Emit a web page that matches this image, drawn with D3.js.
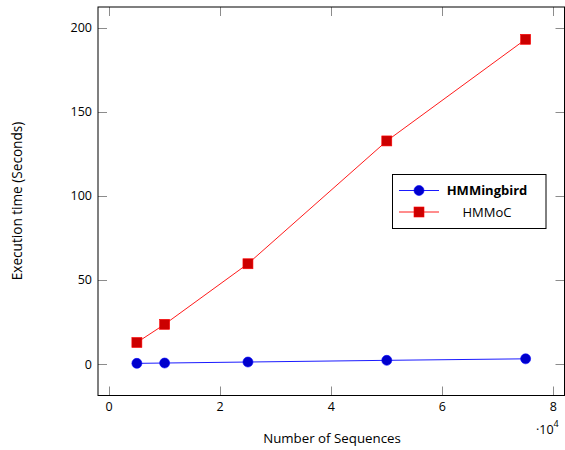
<!DOCTYPE html>
<html>
<head>
<meta charset="utf-8">
<script src="https://cdn.jsdelivr.net/npm/d3@7"></script>
<style>
  body { margin: 0; background: #fff; }
  text { font-family: "Open Sans", sans-serif; fill: #000; }
</style>
</head>
<body>
<div id="chart"></div>
<script>
// Data
var sequences = [5000, 10000, 25000, 50000, 75000];
var hmmingbird = [0.4, 0.6, 1.2, 2.2, 3.1];
var hmmoc = [12.8, 23.6, 59.6, 132.6, 193.0];
var xTicks = [0, 20000, 40000, 60000, 80000];
var yTicks = [0, 50, 100, 150, 200];
var seriesNames = ["HMMingbird", "HMMoC"];

var width = 565, height = 450;
var box = { left: 98, right: 564.5, top: 7, bottom: 395.5 };

var svg = d3.select("#chart").append("svg")
    .attr("width", width)
    .attr("height", height);

// Scales (pgfplots-like enlarged limits)
var x = d3.scaleLinear().domain([-2000, 82000]).range([box.left, box.right]);
var y = d3.scaleLinear().domain([-18.7, 212.2]).range([box.bottom, box.top]);

var tickLen = 9;

// Ticks, inward on all four sides
var ticks = svg.append("g").attr("stroke", "#8c8c8c").attr("stroke-width", 1);
xTicks.forEach(function(t) {
    var px = Math.round(x(t)) + 0.5;
    ticks.append("line").attr("x1", px).attr("x2", px).attr("y1", box.bottom).attr("y2", box.bottom - tickLen);
    ticks.append("line").attr("x1", px).attr("x2", px).attr("y1", box.top).attr("y2", box.top + tickLen);
});
yTicks.forEach(function(t) {
    var py = Math.round(y(t)) + 0.5;
    ticks.append("line").attr("x1", box.left).attr("x2", box.left + tickLen).attr("y1", py).attr("y2", py);
    ticks.append("line").attr("x1", box.right).attr("x2", box.right - tickLen).attr("y1", py).attr("y2", py);
});

// Axis frame
svg.append("rect")
    .attr("x", box.left).attr("y", box.top)
    .attr("width", box.right - box.left).attr("height", box.bottom - box.top)
    .attr("fill", "none").attr("stroke", "#000").attr("stroke-width", 1);

// Tick labels
svg.append("g").selectAll("text")
    .data(xTicks).enter().append("text")
    .attr("x", function(d) { return x(d); })
    .attr("y", 411)
    .attr("text-anchor", "middle")
    .style("font-size", "12.5px")
    .text(function(d) { return d / 10000; });

svg.append("g").selectAll("text")
    .data(yTicks).enter().append("text")
    .attr("x", 92)
    .attr("y", function(d) { return y(d); })
    .attr("dy", "0.36em")
    .attr("text-anchor", "end")
    .style("font-size", "12.5px")
    .text(function(d) { return d; });

// Scale factor label
var sf = svg.append("text").attr("x", 536).attr("y", 434).style("font-size", "12.5px");
sf.append("tspan").text("\u00b710");
sf.append("tspan").attr("dy", -7).style("font-size", "9px").text("4");

// Axis titles
svg.append("text")
    .attr("x", 332).attr("y", 443)
    .attr("text-anchor", "middle")
    .style("font-size", "13.3px")
    .text("Number of Sequences");

svg.append("text")
    .attr("transform", "translate(21.5,201) rotate(-90)")
    .attr("text-anchor", "middle")
    .style("font-size", "13.6px")
    .text("Execution time (Seconds)");

// Series
var line = d3.line()
    .x(function(d, i) { return x(sequences[i]); })
    .y(function(d) { return y(d); });

var plot = svg.append("g");

plot.append("path").datum(hmmingbird)
    .attr("d", line).attr("fill", "none")
    .attr("stroke", "#0000ff").attr("stroke-width", 0.9);
plot.selectAll("circle.hb").data(hmmingbird).enter().append("circle")
    .attr("class", "hb")
    .attr("cx", function(d, i) { return x(sequences[i]); })
    .attr("cy", function(d) { return y(d); })
    .attr("r", 5)
    .attr("fill", "#0000cc").attr("stroke", "#0000ff").attr("stroke-width", 0.6);

plot.append("path").datum(hmmoc)
    .attr("d", line).attr("fill", "none")
    .attr("stroke", "#ff0000").attr("stroke-width", 0.9);
plot.selectAll("rect.hc").data(hmmoc).enter().append("rect")
    .attr("class", "hc")
    .attr("x", function(d, i) { return x(sequences[i]) - 5; })
    .attr("y", function(d) { return y(d) - 5; })
    .attr("width", 10).attr("height", 10)
    .attr("fill", "#cc0000").attr("stroke", "#ff0000").attr("stroke-width", 0.6);

// Legend
var legend = svg.append("g");
legend.append("rect")
    .attr("x", 392.5).attr("y", 174.5).attr("width", 153.5).attr("height", 54)
    .attr("fill", "#fff").attr("stroke", "#000").attr("stroke-width", 1);

var rows = [190.5, 212];
legend.append("line").attr("x1", 399).attr("x2", 439).attr("y1", rows[0]).attr("y2", rows[0])
    .attr("stroke", "#0000ff").attr("stroke-width", 0.9);
legend.append("circle").attr("cx", 419).attr("cy", rows[0]).attr("r", 5)
    .attr("fill", "#0000cc").attr("stroke", "#0000ff").attr("stroke-width", 0.6);
legend.append("line").attr("x1", 399).attr("x2", 439).attr("y1", rows[1]).attr("y2", rows[1])
    .attr("stroke", "#ff0000").attr("stroke-width", 0.9);
legend.append("rect").attr("x", 414).attr("y", rows[1] - 5).attr("width", 10).attr("height", 10)
    .attr("fill", "#cc0000").attr("stroke", "#ff0000").attr("stroke-width", 0.6);

legend.selectAll("text.lg").data(seriesNames).enter().append("text")
    .attr("class", "lg")
    .attr("x", 487)
    .attr("y", function(d, i) { return rows[i]; })
    .attr("dy", "0.36em")
    .attr("text-anchor", "middle")
    .style("font-size", "13px")
    .style("font-weight", function(d, i) { return i === 0 ? "bold" : "normal"; })
    .text(function(d) { return d; });
</script>
</body>
</html>
